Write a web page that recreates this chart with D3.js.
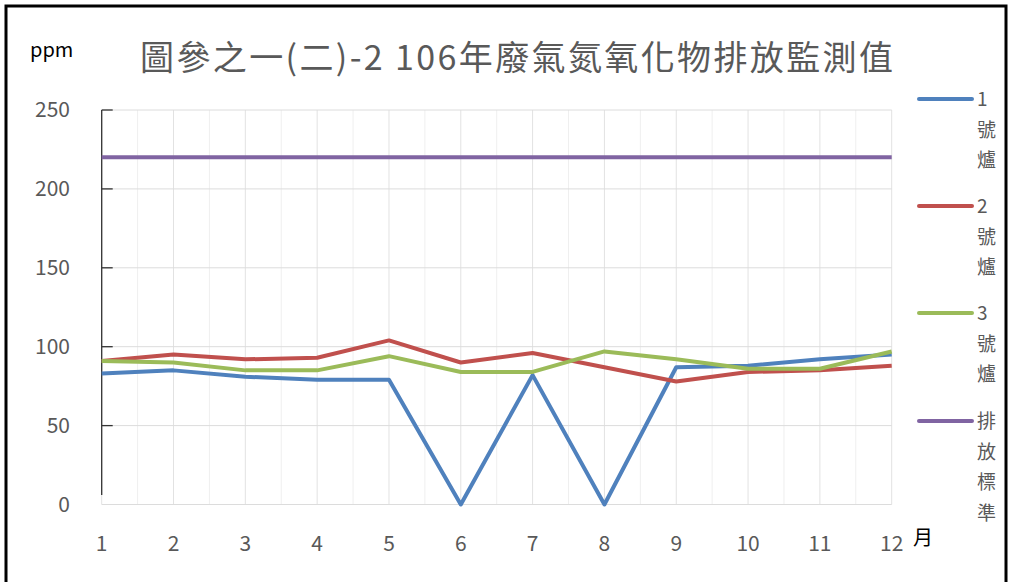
<!DOCTYPE html>
<html>
<head>
<meta charset="utf-8">
<script src="https://cdn.jsdelivr.net/npm/d3@7"></script>
<style>
  body { margin: 0; background: #fff; }
  text { font-family: "Noto Sans CJK TC", "Noto Sans", sans-serif; }
</style>
</head>
<body>
<svg width="1013" height="582"></svg>
<script>
var months = [1, 2, 3, 4, 5, 6, 7, 8, 9, 10, 11, 12];
var yTicks = [0, 50, 100, 150, 200, 250];
var furnace1 = [83, 85, 81, 79, 79, 0, 82, 0, 87, 88, 92, 95];
var furnace2 = [91, 95, 92, 93, 104, 90, 96, 87, 78, 84, 85, 88];
var furnace3 = [91, 90, 85, 85, 94, 84, 84, 97, 92, 86, 86, 97];
var standard = [220, 220, 220, 220, 220, 220, 220, 220, 220, 220, 220, 220];

var series = [
  { name: "1號爐", label: ["1", "號", "爐"], values: furnace1, color: "#4f81bd" },
  { name: "2號爐", label: ["2", "號", "爐"], values: furnace2, color: "#c0504d" },
  { name: "3號爐", label: ["3", "號", "爐"], values: furnace3, color: "#9bbb59" },
  { name: "排放標準", label: ["排", "放", "標", "準"], values: standard, color: "#8064a2" }
];

var svg = d3.select("svg");

// outer frame
svg.append("rect")
  .attr("x", 6).attr("y", 6).attr("width", 1000).attr("height", 590)
  .attr("fill", "none").attr("stroke", "#000").attr("stroke-width", 3);

var x = d3.scaleLinear().domain([1, 12]).range([101.7, 891.7]);
var y = d3.scaleLinear().domain([0, 250]).range([504.5, 110]);

// gridlines
var halfSteps = d3.range(1, 12.01, 0.5);
svg.append("g").selectAll("line")
  .data(halfSteps)
  .enter().append("line")
  .attr("x1", function(d) { return x(d); })
  .attr("x2", function(d) { return x(d); })
  .attr("y1", y(250))
  .attr("y2", y(0))
  .attr("stroke", function(d) { return d % 1 === 0 ? "#e2e2e2" : "#efefef"; })
  .attr("stroke-width", 1);

svg.append("g").selectAll("line")
  .data(yTicks)
  .enter().append("line")
  .attr("x1", x(1))
  .attr("x2", x(12))
  .attr("y1", function(d) { return y(d); })
  .attr("y2", function(d) { return y(d); })
  .attr("stroke", "#dcdcdc")
  .attr("stroke-width", 1);

// y axis line with inner ticks
svg.append("line")
  .attr("x1", x(1)).attr("x2", x(1))
  .attr("y1", y(250)).attr("y2", y(6))
  .attr("stroke", "#333").attr("stroke-width", 1.3);

svg.append("g").selectAll("line")
  .data(yTicks.filter(function(d) { return d > 0; }))
  .enter().append("line")
  .attr("x1", x(1)).attr("x2", x(1) + 11)
  .attr("y1", function(d) { return y(d); })
  .attr("y2", function(d) { return y(d); })
  .attr("stroke", "#333").attr("stroke-width", 1.3);

// y labels
svg.append("g").selectAll("text")
  .data(yTicks)
  .enter().append("text")
  .attr("x", 70)
  .attr("y", function(d) { return y(d) + 7; })
  .attr("text-anchor", "end")
  .attr("font-size", 21)
  .attr("fill", "#595959")
  .text(function(d) { return d; });

// x labels
svg.append("g").selectAll("text")
  .data(months)
  .enter().append("text")
  .attr("x", function(d) { return x(d); })
  .attr("y", 551)
  .attr("text-anchor", "middle")
  .attr("font-size", 21)
  .attr("fill", "#595959")
  .text(function(d) { return d; });

// lines
var line = d3.line()
  .x(function(d, i) { return x(months[i]); })
  .y(function(d) { return y(d); });

svg.append("g").selectAll("path")
  .data(series)
  .enter().append("path")
  .attr("d", function(d) { return line(d.values); })
  .attr("fill", "none")
  .attr("stroke", function(d) { return d.color; })
  .attr("stroke-width", 4)
  .attr("stroke-linejoin", "round");

// title and unit labels
svg.append("text")
  .attr("x", 140).attr("y", 70)
  .attr("font-size", 34)
  .attr("fill", "#595959")
  .attr("textLength", 753)
  .attr("lengthAdjust", "spacing")
  .text("圖參之一(二)-2 106年廢氣氮氧化物排放監測值");

svg.append("text")
  .attr("x", 30).attr("y", 57)
  .attr("font-size", 20)
  .attr("fill", "#000")
  .text("ppm");

svg.append("text")
  .attr("x", 913).attr("y", 545)
  .attr("font-size", 20)
  .attr("fill", "#000")
  .text("月");

// legend
var legendTop = [99, 206, 313, 421];
var legend = svg.append("g").selectAll("g")
  .data(series)
  .enter().append("g")
  .attr("transform", function(d, i) { return "translate(0," + legendTop[i] + ")"; });

legend.append("line")
  .attr("x1", 919).attr("x2", 972)
  .attr("y1", 0).attr("y2", 0)
  .attr("stroke", function(d) { return d.color; })
  .attr("stroke-width", 4)
  .attr("stroke-linecap", "round");

legend.selectAll("text")
  .data(function(d) { return d.label; })
  .enter().append("text")
  .attr("x", 977)
  .attr("y", function(d, i) { return i * 30.5 + 7; })
  .attr("font-size", 19)
  .attr("fill", "#595959")
  .text(function(d) { return d; });
</script>
</body>
</html>
